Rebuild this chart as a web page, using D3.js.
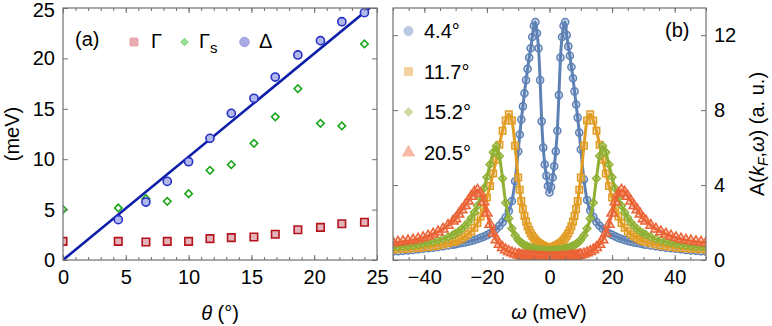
<!DOCTYPE html>
<html>
<head>
<meta charset="utf-8">
<script src="https://cdn.jsdelivr.net/npm/d3@7"></script>
<style>
  html, body { margin: 0; padding: 0; background: #fff; }
  svg { display: block; font-family: "Liberation Sans", Arial, sans-serif; }
</style>
</head>
<body>
<svg id="chart" width="772" height="326"></svg>
<script>
// ---- panel (a): fitted widths / gap vs angle ----
const theta = [0, 4.4, 6.6, 8.3, 10.0, 11.7, 13.4, 15.2, 16.9, 18.7, 20.5, 22.2, 24.0];
const gamma = [1.85, 1.85, 1.79, 1.85, 1.85, 2.12, 2.22, 2.28, 2.55, 3.0, 3.24, 3.6, 3.74];
const gammaS = [5.0, 5.16, 6.08, 5.82, 6.58, 8.9, 9.46, 11.57, 14.2, 17.0, 13.56, 13.3, 21.43];
const delta = [null, 4.0, 5.75, 7.8, 9.75, 12.07, 14.55, 16.04, 18.15, 20.34, 21.76, 23.64, 24.54];
const fitTheta = [0, 25];
const fitDelta = [0, 25.6];
const thetaTicks = [0, 5, 10, 15, 20, 25];
const meVTicks = [0, 5, 10, 15, 20, 25];

// ---- panel (b): spectra at k_F ----
const omega = [
  -50, -48.4, -46.8, -45.2, -43.6, -42, -40.4, -38.8, -37.2, -35.6, -34, -32.4, -30.8,
  -30, -29, -28, -27, -26, -25, -24, -23, -22, -21, -20, -19, -18, -17, -16, -15, -14, -13, -12, -11,
  -10, -9.5, -9, -8.5, -8, -7.5, -7, -6.5, -6, -5.5, -5, -4.5, -4, -3.5, -3, -2.5, -2, -1.5, -1, -0.5,
  0,
  0.5, 1, 1.5, 2, 2.5, 3, 3.5, 4, 4.5, 5, 5.5, 6, 6.5, 7, 7.5, 8, 8.5, 9, 9.5, 10,
  11, 12, 13, 14, 15, 16, 17, 18, 19, 20, 21, 22, 23, 24, 25, 26, 27, 28, 29, 30,
  30.8, 32.4, 34, 35.6, 37.2, 38.8, 40.4, 42, 43.6, 45.2, 46.8, 48.4, 50
];
const spec44 = [
  0.45, 0.47, 0.49, 0.51, 0.54, 0.57, 0.60, 0.63, 0.66, 0.70, 0.74, 0.78, 0.82,
  0.85, 0.88, 0.91, 0.94, 0.98, 1.02, 1.07, 1.12, 1.18, 1.25, 1.33, 1.42, 1.53, 1.66, 1.82, 2.02, 2.28, 2.62, 3.15, 4.2,
  5.8, 6.7, 7.5, 8.2, 8.9, 9.6, 10.2, 10.8, 11.3, 11.9, 12.5, 12.7, 12.1, 11.3, 9.6, 7.4, 6.0, 5.1, 4.5, 3.95,
  3.6,
  3.9, 4.4, 5.0, 5.8, 6.9, 8.8, 10.8, 11.9, 12.5, 12.7, 12.0, 11.4, 10.9, 10.3, 9.7, 9.0, 8.3, 7.6, 6.8, 5.9,
  4.3, 3.2, 2.65, 2.3, 2.03, 1.83, 1.67, 1.54, 1.43, 1.34, 1.26, 1.18, 1.12, 1.07, 1.02, 0.98, 0.94, 0.91, 0.88, 0.85,
  0.82, 0.78, 0.74, 0.70, 0.66, 0.63, 0.60, 0.57, 0.54, 0.51, 0.49, 0.47, 0.45
];
const spec117 = [
  0.56, 0.57, 0.58, 0.60, 0.62, 0.64, 0.67, 0.70, 0.74, 0.78, 0.83, 0.89, 0.96,
  1.0, 1.07, 1.15, 1.25, 1.37, 1.52, 1.72, 1.98, 2.32, 2.78, 3.33, 3.95, 4.62, 5.35, 6.15, 6.9, 7.45, 7.78, 7.45, 6.1,
  4.4, 3.75, 3.15, 2.72, 2.35, 2.05, 1.8, 1.6, 1.43, 1.29, 1.17, 1.07, 0.98, 0.91, 0.85, 0.8, 0.76, 0.72, 0.7, 0.68,
  0.67,
  0.68, 0.7, 0.72, 0.76, 0.8, 0.85, 0.91, 0.98, 1.07, 1.17, 1.29, 1.43, 1.6, 1.8, 2.05, 2.35, 2.72, 3.15, 3.75, 4.4,
  6.1, 7.45, 7.78, 7.45, 6.9, 6.15, 5.35, 4.62, 3.95, 3.33, 2.78, 2.32, 1.98, 1.72, 1.52, 1.37, 1.25, 1.15, 1.07, 1.0,
  0.96, 0.89, 0.83, 0.78, 0.74, 0.70, 0.67, 0.64, 0.62, 0.60, 0.58, 0.57, 0.56
];
const spec152 = [
  0.68, 0.70, 0.72, 0.75, 0.78, 0.82, 0.87, 0.92, 0.98, 1.05, 1.13, 1.23, 1.35,
  1.42, 1.53, 1.66, 1.82, 2.01, 2.25, 2.55, 2.9, 3.32, 3.82, 4.42, 5.1, 5.75, 6.08, 5.55, 4.35, 3.05, 2.22, 1.68, 1.32,
  1.08, 0.99, 0.92, 0.86, 0.8, 0.76, 0.72, 0.68, 0.65, 0.62, 0.6, 0.58, 0.56, 0.55, 0.54, 0.53, 0.52, 0.51, 0.51, 0.5,
  0.5,
  0.5, 0.51, 0.51, 0.52, 0.53, 0.54, 0.55, 0.56, 0.58, 0.6, 0.62, 0.65, 0.68, 0.72, 0.76, 0.8, 0.86, 0.92, 0.99, 1.08,
  1.32, 1.68, 2.22, 3.05, 4.35, 5.55, 6.08, 5.75, 5.1, 4.42, 3.82, 3.32, 2.9, 2.55, 2.25, 2.01, 1.82, 1.66, 1.53, 1.42,
  1.35, 1.23, 1.13, 1.05, 0.98, 0.92, 0.87, 0.82, 0.78, 0.75, 0.72, 0.70, 0.68
];
const spec205 = [
  0.92, 0.95, 0.98, 1.02, 1.06, 1.12, 1.19, 1.28, 1.38, 1.5, 1.65, 1.85, 2.08,
  2.2, 2.45, 2.68, 2.9, 3.15, 3.4, 3.62, 3.72, 3.55, 3.1, 2.5, 1.9, 1.42, 1.08, 0.84, 0.66, 0.54, 0.45, 0.38, 0.32,
  0.28, 0.26, 0.24, 0.22, 0.21, 0.2, 0.19, 0.18, 0.17, 0.16, 0.15, 0.15, 0.14, 0.14, 0.13, 0.13, 0.13, 0.12, 0.12, 0.12,
  0.12,
  0.12, 0.12, 0.12, 0.13, 0.13, 0.13, 0.14, 0.14, 0.15, 0.15, 0.16, 0.17, 0.18, 0.19, 0.2, 0.21, 0.22, 0.24, 0.26, 0.28,
  0.32, 0.38, 0.45, 0.54, 0.66, 0.84, 1.08, 1.42, 1.9, 2.5, 3.1, 3.55, 3.72, 3.62, 3.4, 3.15, 2.9, 2.68, 2.45, 2.2,
  2.08, 1.85, 1.65, 1.5, 1.38, 1.28, 1.19, 1.12, 1.06, 1.02, 0.98, 0.95, 0.92
];
const curveLabels = ["4.4°", "11.7°", "15.2°", "20.5°"];
const omegaTicks = [-40, -20, 0, 20, 40];
const specTicks = [0, 4, 8, 12];

const svg = d3.select("#chart");
const frameColor = "#707070";
const fontSize = 20;

// scales
const xA = d3.scaleLinear().domain([0, 25]).range([63, 377]);
const yA = d3.scaleLinear().domain([0, 25]).range([260, 8]);
const xB = d3.scaleLinear().domain([-50, 50]).range([393, 706]);
const yB = d3.scaleLinear().domain([0, 13.45]).range([260, 8]);

// clip paths
const defs = svg.append("defs");
[["clipA", xA, yA], ["clipB", xB, yB]].forEach(([id, x, y]) => {
  defs.append("clipPath").attr("id", id)
    .append("rect")
    .attr("x", x.range()[0]).attr("y", y.range()[1])
    .attr("width", x.range()[1] - x.range()[0])
    .attr("height", y.range()[0] - y.range()[1]);
});

// frame + ticks (ticks point inward, like the original)
function drawFrame(x, y, opts) {
  const g = svg.append("g");
  const [x0, x1] = x.range();
  const [y0, y1] = y.range();
  const style = (sel) => {
    sel.select(".domain").remove();
    sel.selectAll(".tick line").attr("stroke", frameColor).attr("stroke-width", 1);
    sel.selectAll("text").attr("font-size", fontSize).attr("fill", "#000")
      .attr("font-family", '"Liberation Sans", Arial, sans-serif');
  };
  // bottom with labels
  g.append("g").attr("transform", `translate(0,${y0})`)
    .call(d3.axisBottom(x).tickValues(opts.xMajor).tickSizeInner(-5).tickSizeOuter(0).tickPadding(10))
    .call(style);
  g.append("g").attr("transform", `translate(0,${y0})`)
    .call(d3.axisBottom(x).tickValues(opts.xMinor).tickSize(-3).tickFormat(""))
    .call(style);
  // top
  g.append("g").attr("transform", `translate(0,${y1})`)
    .call(d3.axisTop(x).tickValues(opts.xMajor).tickSize(-5).tickFormat(""))
    .call(style);
  g.append("g").attr("transform", `translate(0,${y1})`)
    .call(d3.axisTop(x).tickValues(opts.xMinor).tickSize(-3).tickFormat(""))
    .call(style);
  // left / right
  const left = d3.axisLeft(y).tickValues(opts.yMajor).tickSizeInner(-5).tickSizeOuter(0).tickPadding(8);
  const right = d3.axisRight(y).tickValues(opts.yMajor).tickSizeInner(-5).tickSizeOuter(0).tickPadding(8);
  if (opts.labelSide === "left") right.tickFormat("");
  else left.tickFormat("");
  const gl = g.append("g").attr("transform", `translate(${x0},0)`).call(left).call(style);
  g.append("g").attr("transform", `translate(${x1},0)`).call(right).call(style);
  // keep the top label of the left axis inside the picture
  gl.selectAll(".tick text").filter((d) => y(d) < 12).attr("dy", "0.42em");
  g.append("rect")
    .attr("x", x0).attr("y", y1)
    .attr("width", x1 - x0).attr("height", y0 - y1)
    .attr("fill", "none").attr("stroke", frameColor).attr("stroke-width", 1.2);
}

// ---------------- panel (a) ----------------
const plotA = svg.append("g").attr("clip-path", "url(#clipA)");

const fitLine = d3.line().x((d) => xA(d[0])).y((d) => yA(d[1]));
plotA.append("path")
  .datum(d3.zip(fitTheta, fitDelta))
  .attr("d", fitLine)
  .attr("fill", "none")
  .attr("stroke", "#0d1ea8")
  .attr("stroke-width", 2.6);

const squareA = d3.symbol().type(d3.symbolSquare).size(56);
const diamondA = d3.symbol().type(d3.symbolSquare).size(28);
const circleA = d3.symbol().type(d3.symbolCircle).size(52);

plotA.append("g").selectAll("path")
  .data(d3.zip(theta, gamma))
  .join("path")
  .attr("d", squareA)
  .attr("transform", (d) => `translate(${xA(d[0])},${yA(d[1])})`)
  .attr("fill", "#e2b3b8")
  .attr("stroke", "#b3141d")
  .attr("stroke-width", 1.6);

plotA.append("g").selectAll("path")
  .data(d3.zip(theta, gammaS))
  .join("path")
  .attr("d", diamondA)
  .attr("transform", (d) => `translate(${xA(d[0])},${yA(d[1])}) rotate(45)`)
  .attr("fill", "#ffffff")
  .attr("stroke", "#1aa61a")
  .attr("stroke-width", 1.6);

plotA.append("g").selectAll("path")
  .data(d3.zip(theta, delta).filter((d) => d[1] !== null))
  .join("path")
  .attr("d", circleA)
  .attr("transform", (d) => `translate(${xA(d[0])},${yA(d[1])})`)
  .attr("fill", "#b3b8ec")
  .attr("stroke", "#2631c4")
  .attr("stroke-width", 1.6);

drawFrame(xA, yA, {
  xMajor: thetaTicks,
  xMinor: d3.range(0, 26, 1),
  yMajor: meVTicks,
  labelSide: "left",
});

// legend (a)
const legA = svg.append("g").attr("font-size", fontSize);
legA.append("text").attr("x", 75).attr("y", 46).text("(a)");
legA.append("path").attr("d", d3.symbol().type(d3.symbolSquare).size(60)())
  .attr("transform", "translate(134,42)")
  .attr("fill", "#e9aeb1").attr("stroke", "#e39ca0").attr("stroke-width", 1);
legA.append("text").attr("x", 151).attr("y", 48).text("Γ");
legA.append("path").attr("d", d3.symbol().type(d3.symbolSquare).size(26)())
  .attr("transform", "translate(184.5,42) rotate(45)")
  .attr("fill", "#9ae09a").attr("stroke", "#7fd67f").attr("stroke-width", 1);
const gs = legA.append("text").attr("x", 199).attr("y", 48);
gs.append("tspan").text("Γ");
gs.append("tspan").attr("font-size", 15).attr("dy", 5).text("s");
legA.append("path").attr("d", d3.symbol().type(d3.symbolCircle).size(70)())
  .attr("transform", "translate(244.5,42)")
  .attr("fill", "#a9abe6").attr("stroke", "#9a9ce0").attr("stroke-width", 1);
legA.append("text").attr("x", 259).attr("y", 48).text("Δ");

// axis titles (a)
const titleA = svg.append("text")
  .attr("x", 220).attr("y", 320)
  .attr("text-anchor", "middle").attr("font-size", fontSize);
titleA.append("tspan").attr("font-style", "italic").text("θ");
titleA.append("tspan").text(" (°)");

svg.append("text")
  .attr("transform", "translate(19,134) rotate(-90)")
  .attr("text-anchor", "middle").attr("font-size", fontSize)
  .text("(meV)");

// ---------------- panel (b) ----------------
const series = [
  { values: spec44, color: "#5e81b5", pale: "#b9c8e3", symbol: d3.symbolCircle, size: 40, rot: 0, label: curveLabels[0] },
  { values: spec117, color: "#e19c24", pale: "#f3d29e", symbol: d3.symbolSquare, size: 42, rot: 0, label: curveLabels[1] },
  { values: spec152, color: "#8fb032", pale: "#cbdca2", symbol: d3.symbolSquare, size: 30, rot: 45, label: curveLabels[2] },
  { values: spec205, color: "#eb6235", pale: "#f7baa5", symbol: d3.symbolTriangle, size: 44, rot: 0, label: curveLabels[3] },
];

const plotB = svg.append("g").attr("clip-path", "url(#clipB)");
const specLine = d3.line()
  .x((d) => xB(d[0]))
  .y((d) => yB(d[1]))
  .curve(d3.curveMonotoneX);

series.forEach((s) => {
  const pts = d3.zip(omega, s.values);
  plotB.append("g").selectAll("path")
    .data(pts)
    .join("path")
    .attr("d", d3.symbol().type(s.symbol).size(s.size))
    .attr("transform", (d) => `translate(${xB(d[0])},${yB(d[1])}) rotate(${s.rot})`)
    .attr("fill", s.pale)
    .attr("fill-opacity", 0.6)
    .attr("stroke", s.color)
    .attr("stroke-width", 1.5);
  plotB.append("path")
    .datum(pts)
    .attr("d", specLine)
    .attr("fill", "none")
    .attr("stroke", s.color)
    .attr("stroke-width", 3)
    .attr("stroke-linejoin", "round");
});

drawFrame(xB, yB, {
  xMajor: omegaTicks,
  xMinor: d3.range(-50, 51, 5),
  yMajor: specTicks,
  labelSide: "right",
});

// legend (b)
const legB = svg.append("g").attr("font-size", fontSize);
series.forEach((s, i) => {
  const cy = 31 + i * 40.5;
  legB.append("path")
    .attr("d", d3.symbol().type(s.symbol).size(s.rot ? 34 : 64)())
    .attr("transform", `translate(408.5,${cy}) rotate(${s.rot})`)
    .attr("fill", s.pale)
    .attr("stroke", s.pale)
    .attr("stroke-width", 1);
  legB.append("text").attr("x", 424).attr("y", cy + 7).text(s.label);
});
legB.append("text").attr("x", 665).attr("y", 37).text("(b)");

// axis titles (b)
const titleB = svg.append("text")
  .attr("x", 549).attr("y", 319)
  .attr("text-anchor", "middle").attr("font-size", fontSize);
titleB.append("tspan").attr("font-style", "italic").text("ω");
titleB.append("tspan").text(" (meV)");

const titleR = svg.append("text")
  .attr("transform", "translate(764,134) rotate(-90)")
  .attr("text-anchor", "middle").attr("font-size", fontSize);
titleR.append("tspan").text("A(");
titleR.append("tspan").attr("font-style", "italic").text("k");
titleR.append("tspan").attr("font-style", "italic").attr("font-size", 14).attr("dy", 4).text("F");
titleR.append("tspan").attr("dy", -4).text(",");
titleR.append("tspan").attr("font-style", "italic").text("ω");
titleR.append("tspan").text(") (a. u.)");
</script>
</body>
</html>
